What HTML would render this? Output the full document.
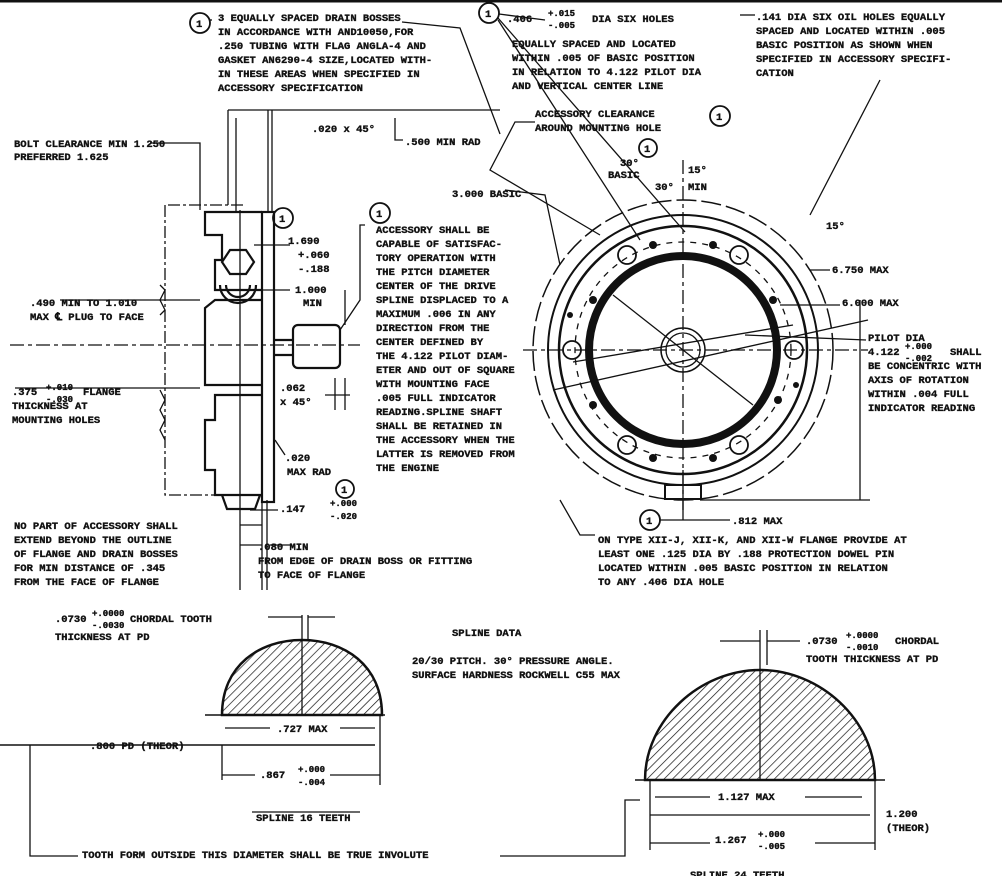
<!DOCTYPE html>
<html><head><meta charset="utf-8"><style>
html,body{margin:0;padding:0;background:#fff;}
svg{display:block;}
text{font-family:"Liberation Mono",monospace;font-weight:bold;font-size:10.5px;fill:#111;stroke:#111;stroke-width:0.35px;}
.s{font-size:9px;}
</style></head><body>
<svg width="1002" height="876" viewBox="0 0 1002 876" xmlns="http://www.w3.org/2000/svg" stroke="#111" fill="none" stroke-width="1.3">
<defs>
<pattern id="h" width="6" height="6" patternUnits="userSpaceOnUse" patternTransform="rotate(45)"><line x1="0" y1="0" x2="0" y2="6" stroke="#111" stroke-width="1.4"/></pattern>
</defs>
<line x1="0" y1="1" x2="1002" y2="1" stroke-width="3"/>

<g stroke-width="1.8">
<circle cx="200" cy="23" r="10"/><circle cx="489" cy="13" r="10"/><circle cx="720" cy="116" r="10"/>
<circle cx="648" cy="148" r="9"/><circle cx="283" cy="218" r="10"/><circle cx="380" cy="213" r="10"/>
<circle cx="345" cy="489" r="9"/><circle cx="650" cy="520" r="10"/>
</g>
<g fill="#111" style="font-size:11px">
<text x="196" y="27">1</text><text x="485" y="17">1</text>
<text x="716" y="120">1</text><text x="644" y="152">1</text>
<text x="279" y="222">1</text><text x="376" y="217">1</text>
<text x="341" y="493">1</text><text x="646" y="524">1</text>
</g>

<g fill="#111">
<text x="218" y="21">3 EQUALLY SPACED DRAIN BOSSES</text>
<text x="218" y="35">IN ACCORDANCE WITH AND10050,FOR</text>
<text x="218" y="49">.250 TUBING WITH FLAG ANGLA-4 AND</text>
<text x="218" y="63">GASKET AN6290-4 SIZE,LOCATED WITH-</text>
<text x="218" y="77">IN THESE AREAS WHEN SPECIFIED IN</text>
<text x="218" y="91">ACCESSORY SPECIFICATION</text>
<text x="507" y="22">.406</text><text x="548" y="16" class="s">+.015</text><text x="548" y="28" class="s">-.005</text>
<text x="592" y="22">DIA SIX HOLES</text>
<text x="512" y="47">EQUALLY SPACED AND LOCATED</text>
<text x="512" y="61">WITHIN .005 OF BASIC POSITION</text>
<text x="512" y="75">IN RELATION TO 4.122 PILOT DIA</text>
<text x="512" y="89">AND VERTICAL CENTER LINE</text>
<text x="756" y="20">.141 DIA SIX OIL HOLES EQUALLY</text>
<text x="756" y="34">SPACED AND LOCATED WITHIN .005</text>
<text x="756" y="48">BASIC POSITION AS SHOWN WHEN</text>
<text x="756" y="62">SPECIFIED IN ACCESSORY SPECIFI-</text>
<text x="756" y="76">CATION</text>
<text x="535" y="117">ACCESSORY CLEARANCE</text>
<text x="535" y="131">AROUND MOUNTING HOLE</text>
<text x="405" y="145">.500 MIN RAD</text>
<text x="312" y="132">.020 x 45°</text>
<text x="14" y="147">BOLT CLEARANCE MIN 1.250</text>
<text x="14" y="160">PREFERRED 1.625</text>
<text x="452" y="197">3.000 BASIC</text>
<text x="620" y="166">30°</text><text x="608" y="178">BASIC</text>
<text x="655" y="190">30°</text><text x="688" y="190">MIN</text>
<text x="688" y="173">15°</text>
<text x="826" y="229">15°</text>
<text x="832" y="273">6.750 MAX</text>
<text x="842" y="306">6.000 MAX</text>
<text x="868" y="341">PILOT DIA</text>
<text x="868" y="355">4.122</text><text x="905" y="349" class="s">+.000</text><text x="905" y="361" class="s">-.002</text><text x="950" y="355">SHALL</text>
<text x="868" y="369">BE CONCENTRIC WITH</text>
<text x="868" y="383">AXIS OF ROTATION</text>
<text x="868" y="397">WITHIN .004 FULL</text>
<text x="868" y="411">INDICATOR READING</text>
<text x="376" y="233">ACCESSORY SHALL BE</text>
<text x="376" y="247">CAPABLE OF SATISFAC-</text>
<text x="376" y="261">TORY OPERATION WITH</text>
<text x="376" y="275">THE PITCH DIAMETER</text>
<text x="376" y="289">CENTER OF THE DRIVE</text>
<text x="376" y="303">SPLINE DISPLACED TO A</text>
<text x="376" y="317">MAXIMUM .006 IN ANY</text>
<text x="376" y="331">DIRECTION FROM THE</text>
<text x="376" y="345">CENTER DEFINED BY</text>
<text x="376" y="359">THE 4.122 PILOT DIAM-</text>
<text x="376" y="373">ETER AND OUT OF SQUARE</text>
<text x="376" y="387">WITH MOUNTING FACE</text>
<text x="376" y="401">.005 FULL INDICATOR</text>
<text x="376" y="415">READING.SPLINE SHAFT</text>
<text x="376" y="429">SHALL BE RETAINED IN</text>
<text x="376" y="443">THE ACCESSORY WHEN THE</text>
<text x="376" y="457">LATTER IS REMOVED FROM</text>
<text x="376" y="471">THE ENGINE</text>
<text x="288" y="244">1.690</text><text x="298" y="258">+.060</text><text x="298" y="272">-.188</text>
<text x="295" y="293">1.000</text><text x="303" y="306">MIN</text>
<text x="30" y="306">.490 MIN TO 1.010</text>
<text x="30" y="320">MAX ℄ PLUG TO FACE</text>
<text x="12" y="395">.375</text><text x="46" y="390" class="s">+.010</text><text x="46" y="402" class="s">-.030</text><text x="83" y="395">FLANGE</text>
<text x="12" y="409">THICKNESS AT</text>
<text x="12" y="423">MOUNTING HOLES</text>
<text x="280" y="391">.062</text><text x="280" y="405">x 45°</text>
<text x="285" y="461">.020</text><text x="287" y="475">MAX RAD</text>
<text x="280" y="512">.147</text><text x="330" y="506" class="s">+.000</text><text x="330" y="519" class="s">-.020</text>
<text x="14" y="529">NO PART OF ACCESSORY SHALL</text>
<text x="14" y="543">EXTEND BEYOND THE OUTLINE</text>
<text x="14" y="557">OF FLANGE AND DRAIN BOSSES</text>
<text x="14" y="571">FOR MIN DISTANCE OF .345</text>
<text x="14" y="585">FROM THE FACE OF FLANGE</text>
<text x="258" y="550">.080 MIN</text>
<text x="258" y="564">FROM EDGE OF DRAIN BOSS OR FITTING</text>
<text x="258" y="578">TO FACE OF FLANGE</text>
<text x="732" y="524">.812 MAX</text>
<text x="598" y="543">ON TYPE XII-J, XII-K, AND XII-W FLANGE PROVIDE AT</text>
<text x="598" y="557">LEAST ONE .125 DIA BY .188 PROTECTION DOWEL PIN</text>
<text x="598" y="571">LOCATED WITHIN .005 BASIC POSITION IN RELATION</text>
<text x="598" y="585">TO ANY .406 DIA HOLE</text>
<text x="55" y="622">.0730</text><text x="92" y="616" class="s">+.0000</text><text x="92" y="628" class="s">-.0030</text><text x="130" y="622">CHORDAL TOOTH</text>
<text x="55" y="640">THICKNESS AT PD</text>
<text x="452" y="636">SPLINE DATA</text>
<text x="412" y="664">20/30 PITCH.  30° PRESSURE ANGLE.</text>
<text x="412" y="678">SURFACE HARDNESS ROCKWELL C55 MAX</text>
<text x="806" y="644">.0730</text><text x="846" y="638" class="s">+.0000</text><text x="846" y="650" class="s">-.0010</text><text x="895" y="644">CHORDAL</text>
<text x="806" y="662">TOOTH THICKNESS AT PD</text>
<text x="277" y="732">.727 MAX</text>
<text x="90" y="749">.800 PD (THEOR)</text>
<text x="260" y="778">.867</text><text x="298" y="772" class="s">+.000</text><text x="298" y="785" class="s">-.004</text>
<text x="256" y="821">SPLINE  16 TEETH</text>
<text x="82" y="858">TOOTH FORM OUTSIDE THIS DIAMETER SHALL BE TRUE INVOLUTE</text>
<text x="718" y="800">1.127 MAX</text>
<text x="886" y="817">1.200</text><text x="886" y="831">(THEOR)</text>
<text x="715" y="843">1.267</text><text x="758" y="837" class="s">+.000</text><text x="758" y="849" class="s">-.005</text>
<text x="690" y="878">SPLINE  24 TEETH</text>
</g>

<line x1="212" y1="20" x2="210" y2="20"/>
<polyline points="402,22 460,28 500,134"/>
<polyline points="499,14 545,20"/>
<polyline points="498,20 640,240"/>
<polyline points="498,18 685,232"/>
<line x1="755" y1="15" x2="740" y2="15"/>
<polyline points="880,80 810,215"/>
<polyline points="535,122 515,122 490,170 600,235"/>
<polyline points="228,110 500,110"/>
<polyline points="228,110 228,205"/><polyline points="236,118 236,212"/>
<line x1="268" y1="110" x2="268" y2="212"/><line x1="272" y1="110" x2="272" y2="212"/>
<polyline points="395,118 395,140 403,140"/>
<polyline points="505,190 545,195 560,265"/>
<polyline points="150,143 200,143 200,210"/>
<polyline points="168,205 245,205" stroke-dasharray="12,3,3,3"/>
<polyline points="165,205 165,495 245,495" stroke-dasharray="12,3,3,3"/>

<g stroke-width="2.2">
<rect x="262" y="212" width="12" height="290"/>
<polyline points="262,212 205,212 205,235 222,235 222,260 215,260 215,290 262,290"/>
<polyline points="262,300 215,300 205,308 205,385 262,385"/>
<polyline points="262,395 215,395 215,420 205,420 205,470 215,470 215,495 262,495"/>
<rect x="293" y="325" width="47" height="43" rx="5"/>
<line x1="274" y1="340" x2="293" y2="340"/><line x1="274" y1="355" x2="293" y2="355"/>
<path d="M220,285 a18,18 0 0 0 36,0" /><path d="M226,285 a12,12 0 0 0 24,0"/>
<polygon points="222,262 230,250 246,250 254,262 246,274 230,274"/>
<path d="M222,495 l5,14 h28 l5,-14"/>
</g>
<line x1="10" y1="345" x2="360" y2="345" stroke-dasharray="14,4,4,4"/>
<line x1="60" y1="300" x2="200" y2="300"/><line x1="15" y1="388" x2="200" y2="388"/>
<polyline points="160,285 165,290 160,300 165,310 160,315" />
<polyline points="160,390 165,400 160,410 165,420 160,430 165,440"/>
<polyline points="254,245 290,245"/>
<polyline points="262,290 290,290"/><line x1="345" y1="290" x2="345" y2="325"/>
<polyline points="365,225 360,225 360,300 340,330"/>
<line x1="325" y1="395" x2="350" y2="395"/><line x1="345" y1="378" x2="345" y2="410"/>
<line x1="335" y1="378" x2="335" y2="410"/>
<polyline points="275,440 285,455"/>
<line x1="262" y1="500" x2="262" y2="590"/><line x1="267" y1="500" x2="267" y2="590"/>
<line x1="250" y1="510" x2="278" y2="510"/><line x1="240" y1="525" x2="262" y2="525"/>
<line x1="240" y1="545" x2="262" y2="545"/><line x1="270" y1="545" x2="290" y2="545"/>
<line x1="240" y1="210" x2="240" y2="590"/>

<g transform="translate(683,350)">
<circle r="150" stroke-dasharray="20,5" stroke-width="1.5"/>
<circle r="135" stroke-width="2"/>
<circle r="124" stroke-width="2.5"/>
<circle r="108" stroke-dasharray="6,6"/>
<circle r="94" stroke-width="8"/>
<circle r="22" stroke-width="1.5"/><circle r="17"/>
<line x1="-160" y1="0" x2="185" y2="0" stroke-dasharray="14,4,4,4"/>
<line x1="0" y1="-190" x2="0" y2="160" stroke-dasharray="14,4,4,4"/>
<line x1="-70" y1="-55" x2="70" y2="55"/>
<line x1="-110" y1="12" x2="110" y2="-25"/>
<line x1="-130" y1="40" x2="185" y2="-30"/>
<g stroke-width="1.8">
<circle cx="111" cy="0" r="9"/><circle cx="-111" cy="0" r="9"/>
<circle cx="56" cy="-95" r="9"/><circle cx="-56" cy="-95" r="9"/>
<circle cx="56" cy="95" r="9"/><circle cx="-56" cy="95" r="9"/>
</g>
<g fill="#111" stroke="none">
<circle cx="-90" cy="-50" r="4"/><circle cx="90" cy="-50" r="4"/><circle cx="-90" cy="55" r="4"/><circle cx="95" cy="50" r="4"/>
<circle cx="-30" cy="-105" r="4"/><circle cx="30" cy="-105" r="4"/><circle cx="-30" cy="108" r="4"/><circle cx="30" cy="108" r="4"/>
<circle cx="-113" cy="-35" r="3"/><circle cx="113" cy="35" r="3"/>
</g>
<rect x="-18" y="135" width="36" height="14" stroke-width="2"/>
</g>
<line x1="683" y1="470" x2="683" y2="520"/><line x1="700" y1="500" x2="870" y2="500"/>
<line x1="860" y1="300" x2="860" y2="500"/>
<line x1="780" y1="305" x2="840" y2="305"/><line x1="810" y1="270" x2="830" y2="270"/>
<line x1="745" y1="335" x2="866" y2="340"/>
<polyline points="595,535 580,535 560,500"/>
<line x1="660" y1="520" x2="730" y2="520"/>

<line x1="205" y1="715" x2="385" y2="715" stroke-width="1.5"/>
<path d="M222,715 C222,665 260,640 302,640 C344,640 382,665 382,715 Z" fill="url(#h)" stroke-width="2.5"/>
<line x1="302" y1="615" x2="302" y2="715"/><line x1="308" y1="615" x2="308" y2="640"/>
<line x1="268" y1="617" x2="302" y2="617"/><line x1="308" y1="617" x2="335" y2="617"/>
<line x1="225" y1="728" x2="270" y2="728"/><line x1="340" y1="728" x2="375" y2="728"/>
<line x1="0" y1="745" x2="375" y2="745" stroke-width="1.5"/>
<line x1="222" y1="745" x2="222" y2="780"/><line x1="380" y1="715" x2="380" y2="785"/>
<line x1="222" y1="775" x2="255" y2="775"/><line x1="330" y1="775" x2="380" y2="775"/>
<line x1="252" y1="812" x2="360" y2="812"/>
<polyline points="30,745 30,856 78,856"/><polyline points="500,856 625,856 625,800 640,800"/>

<line x1="635" y1="780" x2="885" y2="780" stroke-width="1.5"/>
<path d="M645,780 C645,720 700,670 760,670 C820,670 875,720 875,780 Z" fill="url(#h)" stroke-width="2.5"/>
<line x1="760" y1="630" x2="760" y2="780"/><line x1="767" y1="630" x2="767" y2="665"/>
<line x1="720" y1="641" x2="760" y2="641"/><line x1="767" y1="641" x2="800" y2="641"/>
<line x1="655" y1="797" x2="710" y2="797"/><line x1="805" y1="797" x2="862" y2="797"/>
<line x1="650" y1="815" x2="870" y2="815"/><line x1="650" y1="780" x2="650" y2="850"/>
<line x1="875" y1="780" x2="875" y2="850"/><line x1="650" y1="843" x2="710" y2="843"/><line x1="815" y1="843" x2="875" y2="843"/>
</svg>
</body></html>
